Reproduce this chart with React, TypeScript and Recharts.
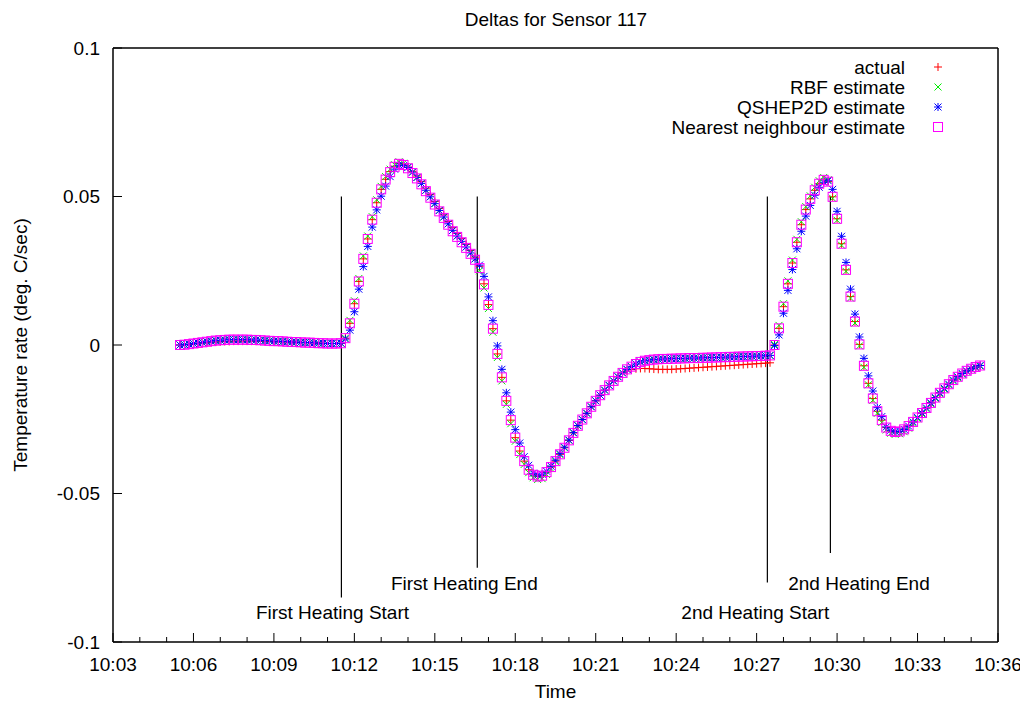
import { ScatterChart, Scatter, XAxis, YAxis, ReferenceLine, ReferenceDot } from 'recharts';

// sample times in seconds after 10:00:00, one reading every 10 s
const times = [
  330, 340, 350, 360, 370, 380, 390, 400, 410, 420,
  430, 440, 450, 460, 470, 480, 490, 500, 510, 520,
  530, 540, 550, 560, 570, 580, 590, 600, 610, 620,
  630, 640, 650, 660, 670, 680, 690, 700, 710, 720,
  730, 740, 750, 760, 770, 780, 790, 800, 810, 820,
  830, 840, 850, 860, 870, 880, 890, 900, 910, 920,
  930, 940, 950, 960, 970, 980, 990, 1000, 1010, 1020,
  1030, 1040, 1050, 1060, 1070, 1080, 1090, 1100, 1110, 1120,
  1130, 1140, 1150, 1160, 1170, 1180, 1190, 1200, 1210, 1220,
  1230, 1240, 1250, 1260, 1270, 1280, 1290, 1300, 1310, 1320,
  1330, 1340, 1350, 1360, 1370, 1380, 1390, 1400, 1410, 1420,
  1430, 1440, 1450, 1460, 1470, 1480, 1490, 1500, 1510, 1520,
  1530, 1540, 1550, 1560, 1570, 1580, 1590, 1600, 1610, 1620,
  1630, 1640, 1650, 1660, 1670, 1680, 1690, 1700, 1710, 1720,
  1730, 1740, 1750, 1760, 1770, 1780, 1790, 1800, 1810, 1820,
  1830, 1840, 1850, 1860, 1870, 1880, 1890, 1900, 1910, 1920,
  1930, 1940, 1950, 1960, 1970, 1980, 1990, 2000, 2010, 2020,
  2030, 2040, 2050, 2060, 2070, 2080, 2090, 2100, 2110, 2120,
];

const actual = [
  0.0000, 0.0001, 0.0002, 0.0004, 0.0006, 0.0007, 0.0008, 0.0009, 0.0010, 0.0011,
  0.0012, 0.0012, 0.0013, 0.0013, 0.0013, 0.0013, 0.0013, 0.0013, 0.0013, 0.0012,
  0.0012, 0.0012, 0.0011, 0.0011, 0.0010, 0.0010, 0.0009, 0.0009, 0.0008, 0.0008,
  0.0007, 0.0006, 0.0006, 0.0005, 0.0005, 0.0005, 0.0006, 0.0023, 0.0073, 0.0139,
  0.0214, 0.0290, 0.0357, 0.0422, 0.0479, 0.0524, 0.0558, 0.0584, 0.0602, 0.0612,
  0.0609, 0.0599, 0.0585, 0.0569, 0.0550, 0.0528, 0.0506, 0.0483, 0.0460, 0.0438,
  0.0416, 0.0395, 0.0376, 0.0358, 0.0339, 0.0318, 0.0296, 0.0265, 0.0206, 0.0136,
  0.0055, -0.0030, -0.0109, -0.0188, -0.0253, -0.0312, -0.0357, -0.0391, -0.0420, -0.0437,
  -0.0443, -0.0440, -0.0428, -0.0411, -0.0391, -0.0368, -0.0346, -0.0321, -0.0296, -0.0272,
  -0.0251, -0.0230, -0.0208, -0.0188, -0.0169, -0.0152, -0.0136, -0.0121, -0.0107, -0.0094,
  -0.0088, -0.0083, -0.0080, -0.0079, -0.0079, -0.0080, -0.0081, -0.0082, -0.0082, -0.0082,
  -0.0082, -0.0081, -0.0080, -0.0079, -0.0078, -0.0077, -0.0076, -0.0075, -0.0074, -0.0073,
  -0.0072, -0.0071, -0.0070, -0.0069, -0.0068, -0.0067, -0.0066, -0.0065, -0.0064, -0.0063,
  -0.0062, -0.0061, -0.0060, 0.0000, 0.0056, 0.0129, 0.0206, 0.0276, 0.0346, 0.0405,
  0.0456, 0.0492, 0.0521, 0.0543, 0.0556, 0.0550, 0.0499, 0.0425, 0.0341, 0.0253,
  0.0163, 0.0079, 0.0002, -0.0070, -0.0129, -0.0180, -0.0223, -0.0253, -0.0278, -0.0289,
  -0.0293, -0.0291, -0.0284, -0.0273, -0.0259, -0.0244, -0.0229, -0.0212, -0.0195, -0.0177,
  -0.0161, -0.0146, -0.0132, -0.0118, -0.0107, -0.0096, -0.0087, -0.0080, -0.0074, -0.0069,
];

const rbf = [
  0.0000, 0.0001, 0.0003, 0.0005, 0.0007, 0.0009, 0.0011, 0.0013, 0.0015, 0.0016,
  0.0017, 0.0018, 0.0018, 0.0018, 0.0018, 0.0018, 0.0017, 0.0017, 0.0016, 0.0015,
  0.0014, 0.0013, 0.0013, 0.0012, 0.0011, 0.0010, 0.0010, 0.0009, 0.0008, 0.0008,
  0.0007, 0.0006, 0.0006, 0.0005, 0.0005, 0.0005, 0.0006, 0.0023, 0.0083, 0.0149,
  0.0224, 0.0300, 0.0367, 0.0432, 0.0489, 0.0534, 0.0567, 0.0592, 0.0607, 0.0617,
  0.0612, 0.0599, 0.0582, 0.0564, 0.0544, 0.0521, 0.0499, 0.0476, 0.0453, 0.0431,
  0.0408, 0.0386, 0.0367, 0.0349, 0.0330, 0.0310, 0.0290, 0.0250, 0.0192, 0.0123,
  0.0043, -0.0042, -0.0121, -0.0200, -0.0265, -0.0324, -0.0369, -0.0402, -0.0430, -0.0447,
  -0.0453, -0.0450, -0.0436, -0.0416, -0.0393, -0.0369, -0.0346, -0.0321, -0.0296, -0.0272,
  -0.0251, -0.0230, -0.0208, -0.0188, -0.0169, -0.0152, -0.0136, -0.0121, -0.0107, -0.0094,
  -0.0082, -0.0073, -0.0064, -0.0057, -0.0053, -0.0051, -0.0049, -0.0048, -0.0047, -0.0047,
  -0.0046, -0.0046, -0.0045, -0.0045, -0.0044, -0.0044, -0.0044, -0.0043, -0.0043, -0.0042,
  -0.0042, -0.0041, -0.0041, -0.0040, -0.0040, -0.0039, -0.0039, -0.0038, -0.0038, -0.0037,
  -0.0037, -0.0036, -0.0035, 0.0002, 0.0066, 0.0139, 0.0216, 0.0286, 0.0356, 0.0415,
  0.0466, 0.0502, 0.0531, 0.0553, 0.0564, 0.0556, 0.0494, 0.0420, 0.0336, 0.0248,
  0.0158, 0.0074, -0.0003, -0.0075, -0.0134, -0.0186, -0.0230, -0.0261, -0.0286, -0.0297,
  -0.0301, -0.0299, -0.0292, -0.0280, -0.0264, -0.0248, -0.0232, -0.0215, -0.0198, -0.0180,
  -0.0164, -0.0149, -0.0135, -0.0121, -0.0110, -0.0099, -0.0089, -0.0082, -0.0076, -0.0071,
];

const qshep = [
  0.0000, 0.0001, 0.0003, 0.0005, 0.0007, 0.0009, 0.0011, 0.0013, 0.0015, 0.0016,
  0.0017, 0.0018, 0.0018, 0.0018, 0.0018, 0.0018, 0.0017, 0.0017, 0.0016, 0.0015,
  0.0014, 0.0013, 0.0013, 0.0012, 0.0011, 0.0010, 0.0010, 0.0009, 0.0008, 0.0008,
  0.0007, 0.0006, 0.0006, 0.0005, 0.0005, 0.0005, 0.0006, 0.0020, 0.0050, 0.0112,
  0.0188, 0.0264, 0.0332, 0.0397, 0.0455, 0.0501, 0.0535, 0.0567, 0.0592, 0.0605,
  0.0604, 0.0598, 0.0582, 0.0564, 0.0544, 0.0521, 0.0499, 0.0476, 0.0453, 0.0431,
  0.0408, 0.0386, 0.0367, 0.0349, 0.0330, 0.0310, 0.0290, 0.0269, 0.0231, 0.0162,
  0.0082, -0.0003, -0.0082, -0.0161, -0.0226, -0.0285, -0.0330, -0.0376, -0.0405, -0.0432,
  -0.0438, -0.0435, -0.0425, -0.0408, -0.0388, -0.0366, -0.0344, -0.0320, -0.0295, -0.0271,
  -0.0251, -0.0230, -0.0208, -0.0188, -0.0169, -0.0152, -0.0136, -0.0121, -0.0107, -0.0094,
  -0.0082, -0.0073, -0.0064, -0.0057, -0.0053, -0.0051, -0.0049, -0.0048, -0.0047, -0.0047,
  -0.0046, -0.0046, -0.0045, -0.0045, -0.0044, -0.0044, -0.0044, -0.0043, -0.0043, -0.0042,
  -0.0042, -0.0041, -0.0041, -0.0040, -0.0040, -0.0039, -0.0039, -0.0038, -0.0038, -0.0037,
  -0.0037, -0.0036, -0.0035, -0.0002, 0.0034, 0.0107, 0.0184, 0.0254, 0.0324, 0.0383,
  0.0434, 0.0470, 0.0504, 0.0531, 0.0548, 0.0553, 0.0524, 0.0450, 0.0366, 0.0278,
  0.0188, 0.0104, 0.0027, -0.0045, -0.0104, -0.0155, -0.0211, -0.0241, -0.0276, -0.0287,
  -0.0291, -0.0290, -0.0284, -0.0273, -0.0259, -0.0244, -0.0229, -0.0212, -0.0195, -0.0177,
  -0.0161, -0.0146, -0.0132, -0.0118, -0.0107, -0.0096, -0.0087, -0.0080, -0.0074, -0.0069,
];

const nearest = [
  0.0000, 0.0001, 0.0003, 0.0005, 0.0007, 0.0009, 0.0011, 0.0013, 0.0015, 0.0016,
  0.0017, 0.0018, 0.0018, 0.0018, 0.0018, 0.0018, 0.0017, 0.0017, 0.0016, 0.0015,
  0.0014, 0.0013, 0.0013, 0.0012, 0.0011, 0.0010, 0.0010, 0.0009, 0.0008, 0.0008,
  0.0007, 0.0006, 0.0006, 0.0005, 0.0005, 0.0005, 0.0006, 0.0023, 0.0073, 0.0139,
  0.0214, 0.0290, 0.0357, 0.0422, 0.0479, 0.0524, 0.0557, 0.0582, 0.0600, 0.0610,
  0.0606, 0.0595, 0.0579, 0.0561, 0.0541, 0.0518, 0.0496, 0.0473, 0.0450, 0.0428,
  0.0405, 0.0383, 0.0364, 0.0346, 0.0327, 0.0307, 0.0287, 0.0259, 0.0204, 0.0135,
  0.0055, -0.0030, -0.0109, -0.0188, -0.0253, -0.0312, -0.0357, -0.0391, -0.0420, -0.0437,
  -0.0443, -0.0440, -0.0428, -0.0411, -0.0391, -0.0368, -0.0346, -0.0321, -0.0296, -0.0272,
  -0.0251, -0.0230, -0.0208, -0.0188, -0.0169, -0.0152, -0.0136, -0.0121, -0.0107, -0.0094,
  -0.0082, -0.0073, -0.0064, -0.0057, -0.0053, -0.0051, -0.0049, -0.0048, -0.0047, -0.0047,
  -0.0046, -0.0046, -0.0045, -0.0045, -0.0044, -0.0044, -0.0044, -0.0043, -0.0043, -0.0042,
  -0.0042, -0.0041, -0.0041, -0.0040, -0.0040, -0.0039, -0.0039, -0.0038, -0.0038, -0.0037,
  -0.0037, -0.0036, -0.0035, 0.0000, 0.0056, 0.0129, 0.0206, 0.0276, 0.0346, 0.0405,
  0.0456, 0.0492, 0.0521, 0.0543, 0.0556, 0.0550, 0.0499, 0.0425, 0.0341, 0.0253,
  0.0163, 0.0079, 0.0002, -0.0070, -0.0129, -0.0180, -0.0223, -0.0253, -0.0278, -0.0289,
  -0.0293, -0.0291, -0.0284, -0.0273, -0.0259, -0.0244, -0.0229, -0.0212, -0.0195, -0.0177,
  -0.0161, -0.0146, -0.0132, -0.0118, -0.0107, -0.0096, -0.0087, -0.0080, -0.0074, -0.0069,
];

// one tick per minute, labels every 3 minutes (10:03 ... 10:36)
const xTicks = [
  180, 240, 300, 360, 420, 480, 540, 600, 660, 720, 780, 840, 900, 960, 1020, 1080, 1140,
  1200, 1260, 1320, 1380, 1440, 1500, 1560, 1620, 1680, 1740, 1800, 1860, 1920, 1980, 2040,
  2100, 2160,
];
const yTicks = [-0.1, -0.05, 0, 0.05, 0.1];

const eventNames = ['First Heating Start', 'First Heating End', '2nd Heating Start', '2nd Heating End'];
const eventTimes = [691, 995, 1644, 1785];

// where the marker lines stop and where their captions sit
const eventLayout = [
  { bottom: -0.085, lx: 671, ly: -0.0899 },
  { bottom: -0.075, lx: 966, ly: -0.0801 },
  { bottom: -0.08, lx: 1617, ly: -0.0899 },
  { bottom: -0.07, lx: 1849, ly: -0.0801 },
];

const FONT = '"Liberation Sans", Arial, Helvetica, sans-serif';
const FS = 19;

const series = [
  { name: 'actual', values: actual, color: '#ff0000', kind: 'plus' },
  { name: 'RBF estimate', values: rbf, color: '#00ee00', kind: 'cross' },
  { name: 'QSHEP2D estimate', values: qshep, color: '#0000ff', kind: 'star' },
  { name: 'Nearest neighbour estimate', values: nearest, color: '#ff00ff', kind: 'square' },
];

const toPoints = (vals: number[]) => times.map((t, i) => ({ t, v: vals[i] }));

function Glyph({ kind, cx, cy, color }: { kind: string; cx: number; cy: number; color: string }) {
  const plus = `M${cx - 4},${cy}H${cx + 4}M${cx},${cy - 4}V${cy + 4}`;
  const cross = `M${cx - 3.5},${cy - 3.5}L${cx + 3.5},${cy + 3.5}M${cx - 3.5},${cy + 3.5}L${cx + 3.5},${cy - 3.5}`;
  if (kind === 'plus') return <path d={plus} stroke={color} strokeWidth={1} fill="none" />;
  if (kind === 'cross') return <path d={cross} stroke={color} strokeWidth={1} fill="none" />;
  if (kind === 'star') return <path d={plus + cross} stroke={color} strokeWidth={1} fill="none" />;
  return <rect x={cx - 4.5} y={cy - 4.5} width={9} height={9} stroke={color} strokeWidth={1} fill="none" />;
}

const timeLabel = (s: number) => {
  const m = Math.round(s / 60);
  return `10:${String(m).padStart(2, '0')}`;
};

const BottomTick = (props: any) => {
  const { x, y, payload } = props;
  const major = payload.value % 180 === 0;
  return (
    <g>
      <line x1={x} y1={y} x2={x} y2={y - (major ? 9 : 5)} stroke="#000" />
      {major && (
        <text x={x} y={y + 29} textAnchor="middle" fontSize={FS} fill="#000">
          {timeLabel(payload.value)}
        </text>
      )}
    </g>
  );
};

const TopTick = (props: any) => {
  const { x, y, payload } = props;
  const major = payload.value % 180 === 0;
  return <line x1={x} y1={y} x2={x} y2={y + (major ? 9 : 5)} stroke="#000" />;
};

const LeftTick = (props: any) => {
  const { x, y, payload } = props;
  return (
    <g>
      <line x1={x} y1={y} x2={x + 9} y2={y} stroke="#000" />
      <text x={x - 13} y={y} dy="0.36em" textAnchor="end" fontSize={FS} fill="#000">
        {String(payload.value)}
      </text>
    </g>
  );
};

const RightTick = (props: any) => {
  const { x, y } = props;
  return <line x1={x} y1={y} x2={x - 9} y2={y} stroke="#000" />;
};

export default function App() {
  const W = 1020;
  const H = 697;
  return (
    <div style={{ position: 'relative', width: W, height: H, fontFamily: FONT, background: '#fff' }}>
      <ScatterChart width={W} height={H} margin={{ top: 39, right: 29, bottom: 0, left: 0 }}>
        <XAxis
          xAxisId="b"
          dataKey="t"
          type="number"
          domain={[180, 2160]}
          ticks={xTicks}
          interval={0}
          height={63}
          tickSize={0}
          tickMargin={0}
          tickLine={false}
          axisLine={{ stroke: '#000', strokeWidth: 1.5 }}
          tick={(p: any) => <BottomTick {...p} />}
          label={{ value: 'Time', position: 'insideBottom', offset: 7, fill: '#000', fontSize: FS }}
        />
        <XAxis
          xAxisId="t"
          orientation="top"
          dataKey="t"
          type="number"
          domain={[180, 2160]}
          ticks={xTicks}
          interval={0}
          height={1}
          tickSize={0}
          tickMargin={0}
          tickLine={false}
          axisLine={{ stroke: '#000', strokeWidth: 1.5 }}
          tick={(p: any) => <TopTick {...p} />}
        />
        <YAxis
          yAxisId="l"
          dataKey="v"
          type="number"
          domain={[-0.1, 0.1]}
          ticks={yTicks}
          interval={0}
          width={105}
          tickSize={0}
          tickMargin={0}
          tickLine={false}
          axisLine={{ stroke: '#000', strokeWidth: 1.5 }}
          tick={(p: any) => <LeftTick {...p} />}
          label={{
            value: 'Temperature rate (deg. C/sec)',
            angle: -90,
            position: 'insideLeft',
            offset: 12,
            fill: '#000',
            fontSize: FS,
            style: { textAnchor: 'middle' },
          }}
        />
        <YAxis
          yAxisId="r"
          orientation="right"
          dataKey="v"
          type="number"
          domain={[-0.1, 0.1]}
          ticks={yTicks}
          interval={0}
          width={1}
          tickSize={0}
          tickMargin={0}
          tickLine={false}
          axisLine={{ stroke: '#000', strokeWidth: 1.5 }}
          tick={(p: any) => <RightTick {...p} />}
        />
        {eventTimes.map((t, i) => (
          <ReferenceLine
            key={`line-${i}`}
            xAxisId="b"
            yAxisId="l"
            segment={[
              { x: t, y: 0.05 },
              { x: t, y: eventLayout[i].bottom },
            ]}
            stroke="#000"
            strokeWidth={1.2}
          />
        ))}
        {eventNames.map((name, i) => (
          <ReferenceDot
            key={`label-${i}`}
            xAxisId="b"
            yAxisId="l"
            x={eventLayout[i].lx}
            y={eventLayout[i].ly}
            r={0}
            fill="none"
            stroke="none"
            label={{ value: name, position: 'center', fill: '#000', fontSize: FS }}
          />
        ))}
        {series.map((s) => (
          <Scatter
            key={s.name}
            name={s.name}
            xAxisId="b"
            yAxisId="l"
            data={toPoints(s.values)}
            dataKey="v"
            isAnimationActive={false}
            shape={(p: any) => <Glyph kind={s.kind} cx={p.cx} cy={p.cy} color={s.color} />}
          />
        ))}
      </ScatterChart>
      <svg
        width={W}
        height={H}
        style={{ position: 'absolute', left: 0, top: 0, pointerEvents: 'none', fontFamily: FONT }}
      >
        <text x={548} y={18} textAnchor="middle" fontSize={FS} fill="#000">
          Deltas for Sensor 117
        </text>
        {series.map((s, i) => (
          <g key={s.name}>
            <text x={897} y={65.5 + i * 20} textAnchor="end" fontSize={FS} fill="#000">
              {s.name}
            </text>
            <Glyph kind={s.kind} cx={930} cy={59 + i * 20} color={s.color} />
          </g>
        ))}
      </svg>
    </div>
  );
}
